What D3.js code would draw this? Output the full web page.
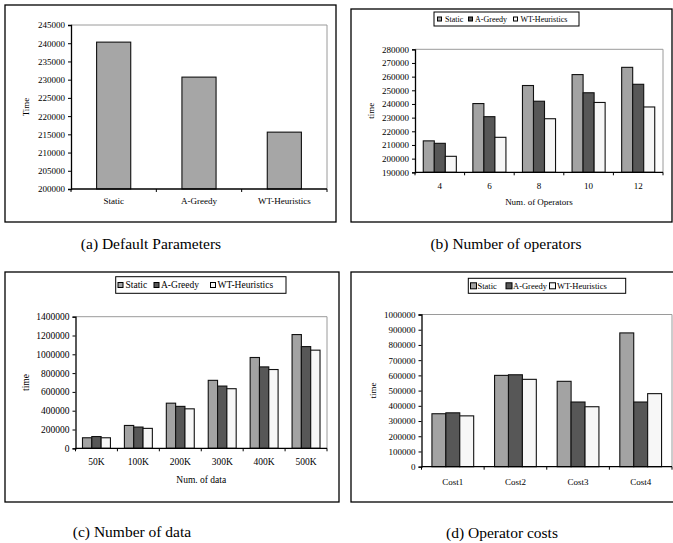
<!DOCTYPE html>
<html>
<head>
<meta charset="utf-8">
<script src="https://cdn.jsdelivr.net/npm/d3@7"></script>
<style>
  html, body { margin: 0; padding: 0; background: #fff; }
  svg { display: block; }
  text { font-family: "Liberation Serif", "Times New Roman", serif; fill: #000; }
</style>
</head>
<body>
<svg id="chart" width="673" height="543"></svg>
<script>
// ---------- data ----------
const seriesNames = ["Static", "A-Greedy", "WT-Heuristics"];

const catsA = ["Static", "A-Greedy", "WT-Heuristics"];
const valuesA = [240300, 230700, 215600];
const ticksA = [200000, 205000, 210000, 215000, 220000, 225000, 230000, 235000, 240000, 245000];

const catsB = ["4", "6", "8", "10", "12"];
const staticB = [213000, 240300, 253500, 261500, 266800];
const greedyB = [211200, 230700, 242000, 248200, 254400];
const wtB = [201700, 215600, 229200, 241100, 237800];
const ticksB = [190000, 200000, 210000, 220000, 230000, 240000, 250000, 260000, 270000, 280000];

const catsC = ["50K", "100K", "200K", "300K", "400K", "500K"];
const staticC = [112000, 243000, 480000, 723000, 966000, 1210000];
const greedyC = [125000, 226000, 446000, 662000, 866000, 1082000];
const wtC = [112000, 212000, 420000, 634000, 838000, 1044000];
const ticksC = [0, 200000, 400000, 600000, 800000, 1000000, 1200000, 1400000];

const catsD = ["Cost1", "Cost2", "Cost3", "Cost4"];
const staticD = [348000, 600000, 561000, 879000];
const greedyD = [354000, 604000, 425000, 425000];
const wtD = [334000, 574000, 394000, 480000];
const ticksD = [0, 100000, 200000, 300000, 400000, 500000, 600000, 700000, 800000, 900000, 1000000];

// ---------- styles ----------
const seriesColors = ["#a3a3a3", "#575757", "#f7f7f7"];
const singleColor = "#a6a6a6";

const svg = d3.select("#chart");

function drawPanel(cfg) {
  const g = svg.append("g");
  // outer box
  g.append("rect")
    .attr("x", cfg.box[0]).attr("y", cfg.box[1])
    .attr("width", cfg.box[2] - cfg.box[0]).attr("height", cfg.box[3] - cfg.box[1])
    .attr("fill", "none").attr("stroke", "#000").attr("stroke-width", 1.3);

  const [px0, py0, px1, py1] = cfg.plot;
  const y = d3.scaleLinear().domain([cfg.ticks[0], cfg.ticks[cfg.ticks.length - 1]]).range([py1, py0]);
  const x0 = d3.scaleBand().domain(cfg.cats).range([px0, px1]).padding(0);
  const n = cfg.series.length;
  const bw = x0.bandwidth();
  const b = bw / (n + 1.5);
  const off = (bw - n * b) / 2;
  const x1 = d3.scaleBand().domain(d3.range(n)).range([off, off + n * b]).padding(0);

  // plot area border (top/right grey)
  g.append("path")
    .attr("d", `M${px0},${py0}H${px1}V${py1}`)
    .attr("fill", "none").attr("stroke", "#9a9a9a").attr("stroke-width", 1);

  // bars
  cfg.series.forEach((vals, si) => {
    g.append("g").selectAll("rect").data(vals).join("rect")
      .attr("x", (d, i) => x0(cfg.cats[i]) + x1(si))
      .attr("y", d => y(d))
      .attr("width", x1.bandwidth())
      .attr("height", d => py1 - y(d))
      .attr("fill", cfg.colors[si])
      .attr("stroke", "#111").attr("stroke-width", 1.1);
  });

  // y axis
  const ya = d3.axisLeft(y).tickValues(cfg.ticks).tickSize(3).tickPadding(3).tickFormat(d3.format("d"));
  const yg = g.append("g").attr("transform", `translate(${px0},0)`).call(ya);
  yg.select(".domain").attr("stroke", "#000").attr("stroke-width", 1.3);
  yg.selectAll(".tick line").attr("stroke", "#000");
  yg.selectAll("text").attr("font-size", cfg.tickFont).attr("font-family", "Liberation Serif, serif");

  // x axis
  g.append("line").attr("x1", px0).attr("x2", px1).attr("y1", py1).attr("y2", py1)
    .attr("stroke", "#000").attr("stroke-width", 1.3);
  const bounds = cfg.cats.map(c => x0(c)).concat([px1]);
  g.append("g").selectAll("line").data(bounds).join("line")
    .attr("x1", d => d).attr("x2", d => d).attr("y1", py1).attr("y2", py1 + 3)
    .attr("stroke", "#000");
  g.append("g").selectAll("text").data(cfg.cats).join("text")
    .attr("x", d => x0(d) + bw / 2).attr("y", cfg.xLabelY)
    .attr("text-anchor", "middle").attr("font-size", cfg.tickFont)
    .text(d => d);

  if (cfg.xTitle) {
    g.append("text").attr("x", (px0 + px1) / 2).attr("y", cfg.xTitleY)
      .attr("text-anchor", "middle").attr("font-size", cfg.tickFont).text(cfg.xTitle);
  }
  // y title
  g.append("text")
    .attr("transform", `translate(${cfg.yTitleX},${(py0 + py1) / 2}) rotate(-90)`)
    .attr("text-anchor", "middle").attr("font-size", cfg.tickFont).text(cfg.yTitle);

  // legend
  if (cfg.legend) {
    const L = cfg.legend;
    g.append("rect").attr("x", L.box[0]).attr("y", L.box[1])
      .attr("width", L.box[2] - L.box[0]).attr("height", L.box[3] - L.box[1])
      .attr("fill", "#fff").attr("stroke", "#000").attr("stroke-width", 1);
    const cy = (L.box[1] + L.box[3]) / 2;
    seriesNames.forEach((name, i) => {
      g.append("rect").attr("x", L.markX[i]).attr("y", cy - L.mark / 2)
        .attr("width", L.mark).attr("height", L.mark)
        .attr("fill", cfg.colors[i]).attr("stroke", "#000").attr("stroke-width", 1);
      g.append("text").attr("x", L.textX[i]).attr("y", cy + L.font * 0.33)
        .attr("font-size", L.font).text(name);
    });
  }

  // caption
  svg.append("text").attr("x", cfg.caption.x).attr("y", cfg.caption.y)
    .attr("text-anchor", "middle").attr("font-size", 15.5).text(cfg.caption.text);
}

drawPanel({
  box: [5, 5, 336, 222], plot: [71, 25, 327, 189],
  cats: catsA, series: [valuesA], colors: [singleColor], ticks: ticksA,
  tickFont: 9, xLabelY: 204, yTitle: "Time", yTitleX: 29,
  caption: { x: 151, y: 249, text: "(a) Default Parameters" }
});

drawPanel({
  box: [351, 9, 672, 222], plot: [415, 49.3, 663, 172.3],
  cats: catsB, series: [staticB, greedyB, wtB], colors: seriesColors, ticks: ticksB,
  tickFont: 9, xLabelY: 188.5, xTitle: "Num. of Operators", xTitleY: 205,
  yTitle: "time", yTitleX: 374,
  legend: { box: [434, 12, 579, 26], mark: 4, font: 8, markX: [437.5, 468.5, 513.5], textX: [445, 475, 520.5] },
  caption: { x: 506, y: 249, text: "(b) Number of operators" }
});

drawPanel({
  box: [5, 272, 339, 502], plot: [75.5, 316.7, 327, 448.3],
  cats: catsC, series: [staticC, greedyC, wtC], colors: seriesColors, ticks: ticksC,
  tickFont: 9.5, xLabelY: 465, xTitle: "Num. of data", xTitleY: 483,
  yTitle: "time", yTitleX: 29,
  legend: { box: [115.7, 276.7, 286, 293.3], mark: 5, font: 9.5, markX: [118, 154, 210.5], textX: [125.5, 161, 217.5] },
  caption: { x: 132, y: 537, text: "(c) Number of data" }
});

drawPanel({
  box: [351, 272, 674, 502], plot: [421.5, 314.5, 672, 466.7],
  cats: catsD, series: [staticD, greedyD, wtD], colors: seriesColors, ticks: ticksD,
  tickFont: 9, xLabelY: 485,
  yTitle: "time", yTitleX: 376,
  legend: { box: [468.3, 278.3, 625.7, 293.3], mark: 6, font: 8.5, markX: [470.5, 506, 549.5], textX: [477.5, 513, 557] },
  caption: { x: 502, y: 538, text: "(d) Operator costs" }
});
</script>
</body>
</html>
